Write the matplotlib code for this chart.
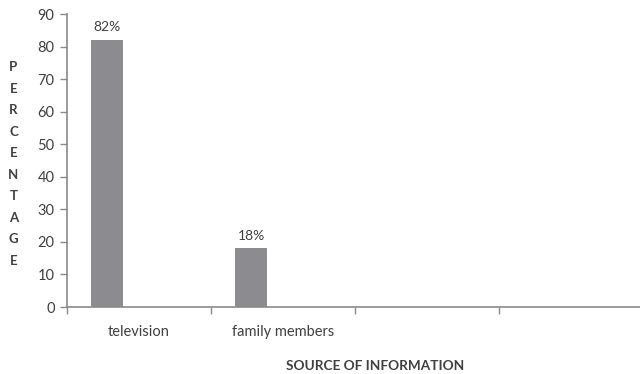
import numpy as np
import matplotlib.pyplot as plt

# --- Dados -----------------------------------------------------------------

categories = ["television", "family members", "", ""]
values = [82, 18]
value_labels = ["82%", "18%"]
y_ticks = list(range(0, 100, 10))

# --- Figura ----------------------------------------------------------------

plt.rcParams['font.family'] = ['Lato', 'DejaVu Sans']
text_color = '#404040'
axis_color = '#8a8a8a'
bar_color = '#8c8c90'

fig = plt.figure(figsize=(6.4, 3.74), dpi=100)
ax = fig.add_axes([0.1047, 0.179, 0.9, 0.7834])

# barras deslocadas dentro de cada categoria (estilo Excel com várias séries)
x = np.arange(len(values))
bar_left = 0.167
bar_width = 0.222
bars = ax.bar(x + bar_left, values, width=bar_width, align='edge', color=bar_color)

for rect, lab in zip(bars, value_labels):
    ax.annotate(lab, (rect.get_x() + rect.get_width() / 2, rect.get_height()),
                xytext=(0, 5), textcoords='offset points', ha='center', va='bottom',
                fontsize=10, color=text_color)

ax.set_xlim(0, len(categories))
ax.set_ylim(0, 90)
ax.set_yticks(y_ticks)

# ticks nas fronteiras, rótulos no centro das categorias
ax.set_xticks(np.arange(len(categories) + 1))
ax.set_xticklabels([])
ax.set_xticks(np.arange(len(categories)) + 0.5, minor=True)
ax.set_xticklabels(categories, minor=True)
ax.tick_params(axis='x', which='major', length=5, color=axis_color, width=1)
ax.tick_params(axis='x', which='minor', length=0, pad=13, labelsize=10.5, labelcolor=text_color)
ax.tick_params(axis='y', length=5, color=axis_color, width=1, labelsize=10.5,
               labelcolor=text_color, pad=4)

for side in ['top', 'right']:
    ax.spines[side].set_visible(False)
for side in ['left', 'bottom']:
    ax.spines[side].set_color(axis_color)
    ax.spines[side].set_linewidth(1.2)

fig.text(0.021, 0.561, "\n".join("PERCENTAGE"), ha='center', va='center',
         fontsize=9.5, fontweight='bold', color=text_color, linespacing=1.95)
fig.text(0.586, 0.021, "SOURCE OF INFORMATION", ha='center', va='center',
         fontsize=9.8, fontweight='bold', color=text_color)

fig.savefig("out.png", dpi=100)
